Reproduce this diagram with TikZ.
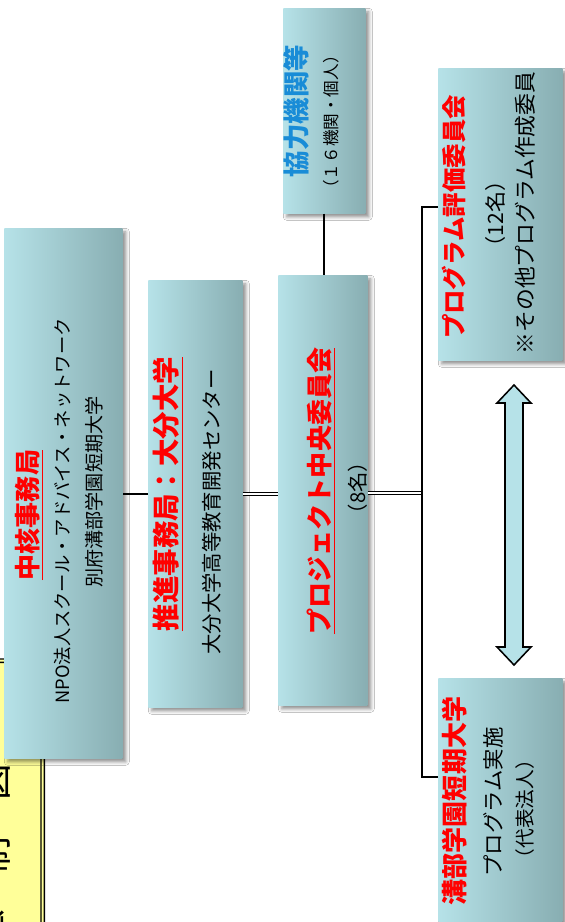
\documentclass[tikz,border=0pt]{standalone}
\usepackage{fontspec}
\setmainfont{Noto Sans CJK JP}
\usetikzlibrary{shadows.blur,calc}

\definecolor{boxlight}{RGB}{182,226,232}
\definecolor{boxdark}{RGB}{136,174,178}
\definecolor{titlered}{RGB}{255,0,0}
\definecolor{partnerblue}{RGB}{25,140,215}
\definecolor{notepaper}{RGB}{255,255,153}

\begin{document}
\begin{tikzpicture}[x=0.025cm, y=-0.025cm,
    size/.style 2 args={minimum width=#1*0.025cm, minimum height=#2*0.025cm},
    orgbox/.style={anchor=north west, inner sep=0pt, left color=boxlight, right color=boxdark,
        blur shadow={shadow xshift=2.5pt, shadow yshift=-2.5pt, shadow blur radius=2.5pt, shadow opacity=45}},
    notebox/.style={anchor=north west, inner sep=0pt, fill=notepaper, draw=black, double=notepaper,
        double distance=1.4pt, line width=1pt, rounded corners=10pt},
    lbl/.style={rotate=90, inner sep=0pt},
    link/.style={line width=1.2pt},
    dlink/.style={double, double distance=1.3pt, line width=0.9pt},
]

    % Page frame in pixels of the reference
    \clip (0,0) rectangle (565,922);
    \fill[white] (0,0) rectangle (565,922);

    % Title box, cut off at the lower left
    \node[notebox, size={58}{290}] (frame) at (-16,660) {};
    \node[lbl, font=\fontsize{26}{26}\selectfont] (frametext) at (-6,855) {体　制　図};

    % Core office
    \node[orgbox, size={118}{530}] (core) at (4,228) {};
    \node[lbl, text=titlered, font=\bfseries\fontsize{18.5}{18.5}\selectfont] (coretitle) at (29,515) {\underline{中核事務局}};
    \node[lbl, font=\fontsize{13}{13}\selectfont] (coresub) at (63,511) {NPO法人スクール・アドバイス・ネットワーク};
    \node[lbl, font=\fontsize{13.6}{13.6}\selectfont] (corehost) at (94,492) {別府溝部学園短期大学};

    % Promotion office
    \node[orgbox, size={94}{427}] (promo) at (148,280) {};
    \node[lbl, text=titlered, font=\bfseries\fontsize{19.5}{19.5}\selectfont] (promotitle) at (168,494) {\underline{推進事務局：大分大学}};
    \node[lbl, font=\fontsize{14.5}{14.5}\selectfont] (promosub) at (212,512) {大分大学高等教育開発センター};

    % Central committee
    \node[orgbox, size={89}{430}] (central) at (278,275) {};
    \node[lbl, text=titlered, font=\bfseries\fontsize{18.5}{18.5}\selectfont] (centraltitle) at (321,491) {\underline{プロジェクト中央委員会}};
    \node[lbl, font=\fontsize{14.5}{14.5}\selectfont] (centralsub) at (358,488) {（8名）};

    % Partner institutions
    \node[orgbox, size={82}{205}] (partners) at (283,8) {};
    \node[lbl, text=partnerblue, font=\bfseries\fontsize{18.8}{18.8}\selectfont] (partnerstitle) at (296,111) {協力機関等};
    \node[lbl, font=\fontsize{11.8}{11.8}\selectfont] (partnerssub) at (331,122) {（１６機関・個人）};

    % Evaluation committee
    \node[orgbox, size={124}{292}] (evalc) at (438,68) {};
    \node[lbl, text=titlered, font=\bfseries\fontsize{17.4}{17.4}\selectfont] (evalctitle) at (454,217) {プログラム評価委員会};
    \node[lbl, font=\fontsize{15}{15}\selectfont] (evalcsub) at (495,214) {（12名）};
    \node[lbl, font=\fontsize{15.5}{15.5}\selectfont] (evalcnote) at (525,213) {※その他プログラム作成委員};

    % Representative college
    \node[orgbox, size={124}{270}] (mizobe) at (438,678) {};
    \node[lbl, text=titlered, font=\bfseries\fontsize{18.5}{18.5}\selectfont] (mizobetitle) at (455,801) {溝部学園短期大学};
    \node[lbl, font=\fontsize{15.2}{15.2}\selectfont] (mizobesub) at (493,802) {プログラム実施};
    \node[lbl, font=\fontsize{14}{14}\selectfont] (mizobenote) at (525,809) {（代表法人）};

    % Connectors
    \coordinate (hub) at (422,493);
    \draw[link] (promo.west) -- (promo.west -| core.east);
    \draw[dlink] (promo.east) -- (promo.east -| central.west);
    \draw[dlink] (central.east |- hub) -- (hub);
    \draw[link] (hub) |- ($(evalc.west)+(0,-7)$); % branch to the evaluation committee
    \draw[link] (hub) |- ($(mizobe.north west)+(0,99)$); % branch to the college
    \draw[link] (partners.south) -- (partners.south |- central.north);

    % Two-way arrow between the committee and the college
    \draw[line width=1.1pt, fill=boxlight, line join=miter] (514,385) -- (531,403) -- (523,403) -- (523,647)
        -- (531,647) -- (514,665) -- (497,647) -- (505,647) -- (505,403) -- (497,403) -- cycle;
\end{tikzpicture}
\end{document}
